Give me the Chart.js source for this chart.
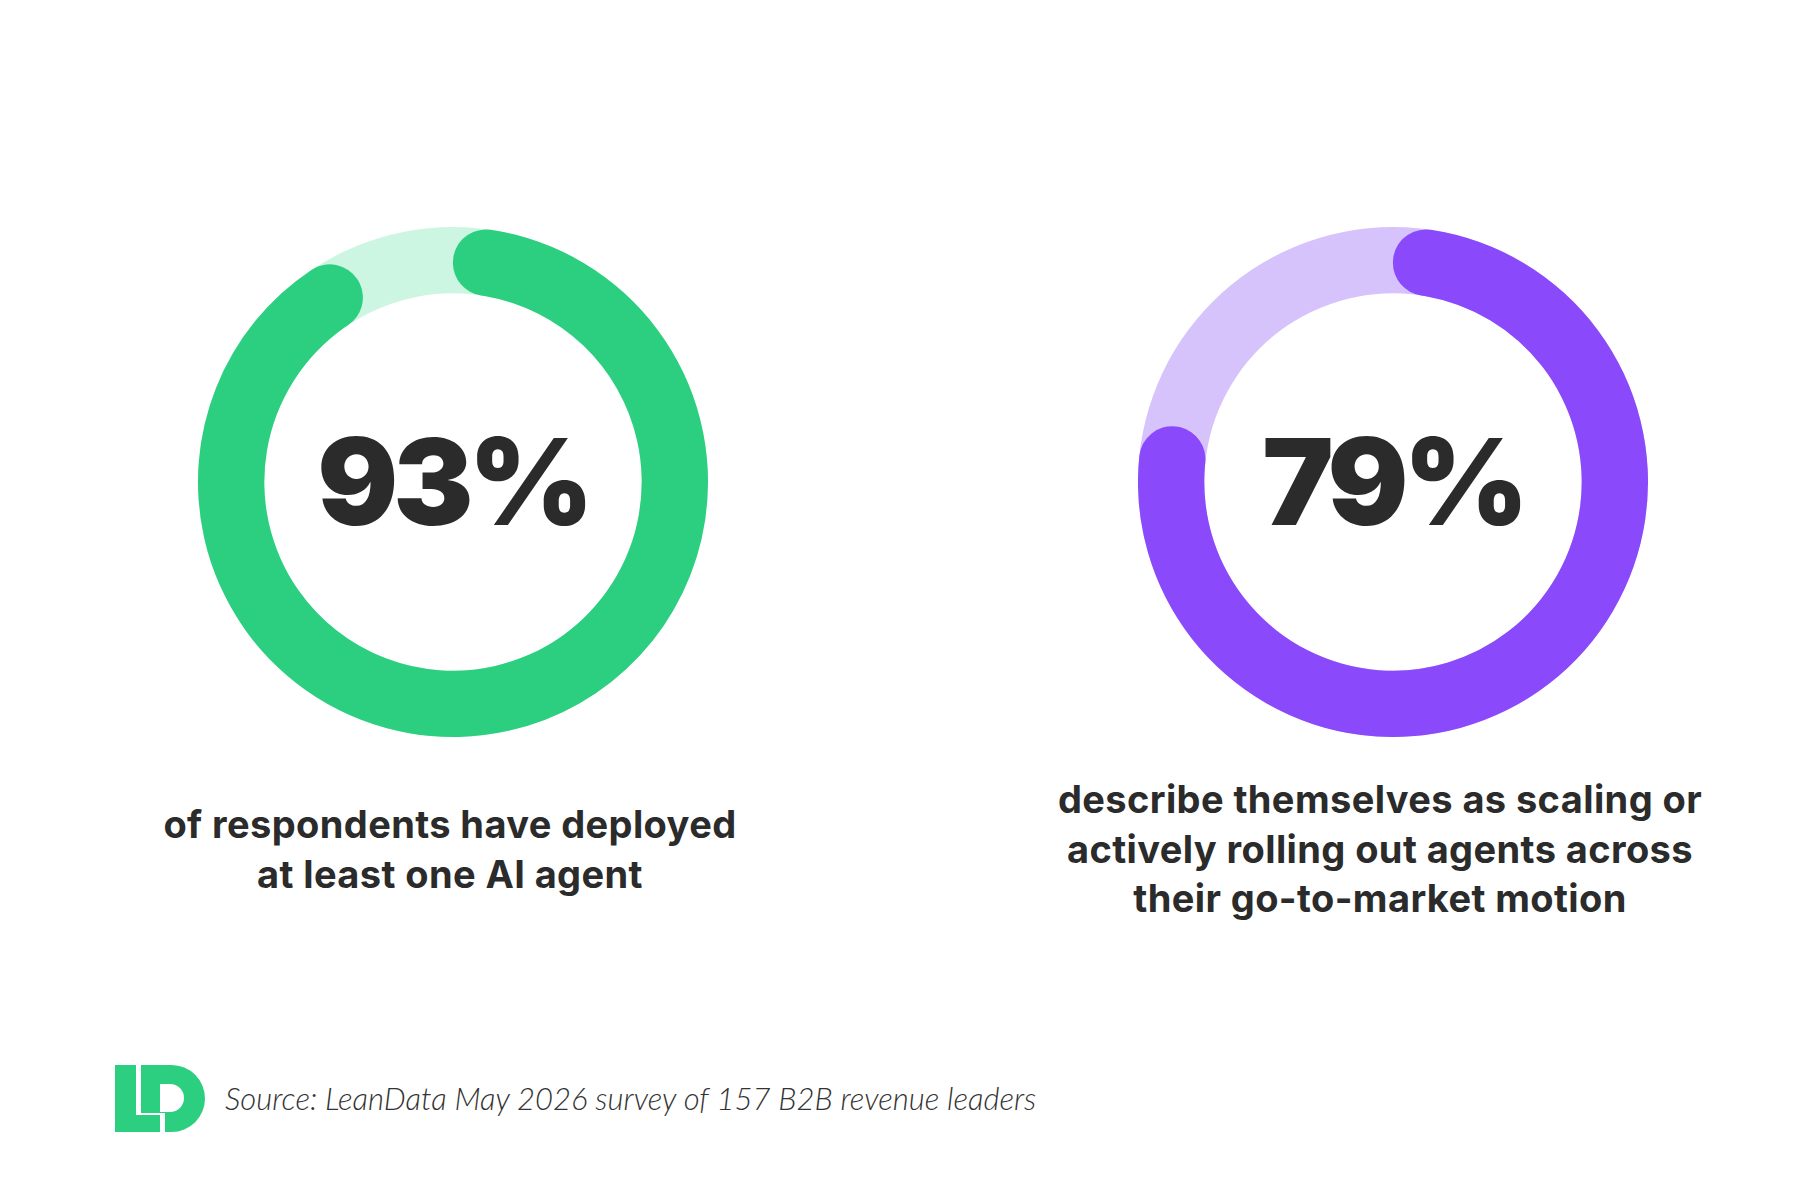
<!DOCTYPE html>
<html>
<head>
<meta charset="utf-8">
<script src="https://cdn.jsdelivr.net/npm/chart.js@4/dist/chart.umd.min.js"></script>
<style>
    html, body {
        margin: 0;
        padding: 0;
        background: #ffffff;
    }
    body {
        width: 1800px;
        height: 1200px;
        position: relative;
        overflow: hidden;
        color: #2b2b2b;
    }
    .ring {
        position: absolute;
        width: 510px;
        height: 510px;
    }
    .big {
        position: absolute;
        width: 510px;
        text-align: center;
        font-family: Inter, Lato, sans-serif;
        font-weight: 900;
        font-size: 120px;
        line-height: 122px;
        letter-spacing: -5px;
        color: #2b2b2b;
    }
    .caption {
        position: absolute;
        width: 800px;
        text-align: center;
        font-family: Inter, "Open Sans", sans-serif;
        font-weight: 700;
        font-size: 38px;
        line-height: 50px;
        letter-spacing: 0.4px;
        color: #2b2b2b;
    }
    .source {
        position: absolute;
        left: 225px;
        top: 1078px;
        font-family: Lato, "Open Sans", sans-serif;
        font-style: italic;
        font-weight: 300;
        font-size: 31px;
        line-height: 40px;
        color: #333333;
    }
    .logo {
        position: absolute;
        left: 105px;
        top: 1055px;
    }
</style>
</head>
<body>

<div class="ring" style="left:198px; top:227px;"><canvas id="ring-0" width="510" height="510"></canvas></div>
<div class="ring" style="left:1138px; top:227px;"><canvas id="ring-1" width="510" height="510"></canvas></div>

<div class="big" id="big-0" style="left:198px; top:421px;"></div>
<div class="big" id="big-1" style="left:1138px; top:421px;"></div>

<div class="caption" id="cap-0" style="left:50px; top:799px;"></div>
<div class="caption" id="cap-1" style="left:980px; top:775px; line-height:49.5px;"></div>

<svg class="logo" width="110" height="90" viewBox="0 0 110 90">
    <g fill="#2ccf7f" fill-rule="evenodd">
        <rect x="10" y="10" width="21" height="67"/>
        <rect x="10" y="60" width="45" height="17"/>
        <path d="M36 10 H66.5 A33.5 33.5 0 0 1 66.5 77 H60 V58 H36 Z M55 29 H65 A14 14 0 0 1 65 57 H55 Z"/>
    </g>
</svg>

<div class="source" id="source"></div>

<script>
// 数据
const panelLabels = ['Deployed at least one AI agent', 'Scaling or actively rolling out agents'];
const percentValues = [93, 79];
const captionLines = [
    ['of respondents have deployed', 'at least one AI agent'],
    ['describe themselves as scaling or', 'actively rolling out agents across', 'their go-to-market motion']
];
const sourceText = 'Source: LeanData May 2026 survey of 157 B2B revenue leaders';

// 颜色
const arcColors = ['#2ccf7f', '#8a49fb'];
const trackColors = ['#cdf6e2', '#d7c3fc'];

// 底环插件: 在数据弧下面画一整圈浅色轨道
const trackPlugin = {
    id: 'track',
    beforeDatasetsDraw(chart, args, opts) {
        const arc = chart.getDatasetMeta(0).data[0];
        if (!arc) return;
        const ctx = chart.ctx;
        ctx.save();
        ctx.beginPath();
        ctx.arc(arc.x, arc.y, arc.outerRadius, 0, Math.PI * 2);
        ctx.arc(arc.x, arc.y, arc.innerRadius, Math.PI * 2, 0, true);
        ctx.closePath();
        ctx.fillStyle = opts.color;
        ctx.fill();
        ctx.restore();
    }
};

function createRing(index) {
    const value = percentValues[index];
    const ctx = document.getElementById('ring-' + index);
    return new Chart(ctx, {
        type: 'doughnut',
        data: {
            labels: [panelLabels[index], 'Other'],
            datasets: [{
                data: [value, 100 - value],
                backgroundColor: [arcColors[index], 'rgba(0,0,0,0)'],
                borderWidth: 0,
                borderRadius: c => (c.dataIndex === 0 ? 33 : 0),
                hoverOffset: 0,
                offset: 0
            }]
        },
        options: {
            responsive: false,
            animation: false,
            events: [],
            cutout: '74%',
            layout: { padding: 0 },
            plugins: {
                legend: { display: false },
                tooltip: { enabled: false },
                track: { color: trackColors[index] }
            }
        },
        plugins: [trackPlugin]
    });
}

percentValues.forEach((v, i) => {
    createRing(i);
    document.getElementById('big-' + i).textContent = v + '%';
    document.getElementById('cap-' + i).innerHTML = captionLines[i].join('<br>');
});
document.getElementById('source').textContent = sourceText;
</script>
</body>
</html>
